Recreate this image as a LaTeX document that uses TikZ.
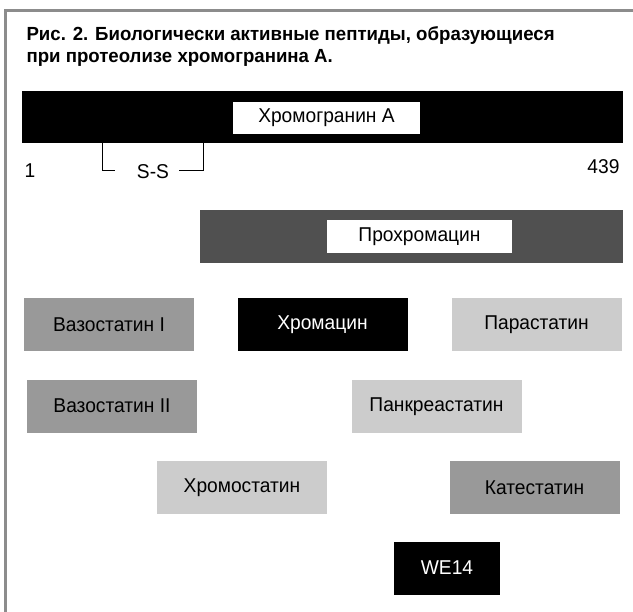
\documentclass[tikz,border=0pt]{standalone}
\usepackage{fontspec}
\setmainfont{Liberation Sans}
\newfontfamily\lblfont{Liberation Sans}[FakeStretch=0.96]
\newfontfamily\ttlfont{Liberation Sans}[FakeStretch=0.98]
\definecolor{framegray}{HTML}{8C8C8C}
\definecolor{darkbar}{HTML}{505050}
\definecolor{midgray}{HTML}{999999}
\definecolor{lightgray}{HTML}{CCCCCC}
\begin{document}
\begin{tikzpicture}[x=1pt,y=-1pt,
  lbl/.style={font=\lblfont\fontsize{20}{24}\selectfont},
  pbox/.style={rectangle, inner sep=0pt, minimum width=170pt, minimum height=53pt, lbl},
  midbox/.style={pbox, fill=midgray},
  lightbox/.style={pbox, fill=lightgray},
  blackbox/.style={pbox, fill=black, text=white},
  whitelabel/.style={rectangle, fill=white, inner sep=0pt, lbl},
  titletext/.style={anchor=base west, font=\ttlfont\bfseries\fontsize{19}{23}\selectfont},
  bracket/.style={draw=black, line width=1pt}
]
\useasboundingbox (0,0) rectangle (633,612);
\fill[white] (0,0) rectangle (633,612);
\draw[framegray, line width=2.5pt] (5.5,612) -- (5.5,10.5) -- (633,10.5);

\node[titletext] (title1) at (23,40.5) {Рис. 2. Биологически активные пептиды, образующиеся};
\node[titletext] (title2) at (23,62.7) {при протеолизе хромогранина А.};

% Chromogranin A
\node[rectangle, fill=black, inner sep=0pt, minimum width=601pt, minimum height=52pt] (cga) at (322.5,117) {};
\node[whitelabel, minimum width=187pt, minimum height=32pt] (cgalbl) at (326.5,118) {\raisebox{1.5pt}{Хромогранин А}};

% S-S bracket
\coordinate (ssl) at (102,143);
\coordinate (ssr) at (203,143);
\node[lbl] (ss) at (153,172) {S-S};
\draw[bracket] (ssl) -- (102,171) -- (115,171);
\draw[bracket] (ssr) -- (203,171) -- (179,171);

\node[lbl, anchor=west] (n1) at (21,171) {1};
\node[lbl, anchor=east] (n439) at (623,167) {439};

% Prochromacin
\node[rectangle, fill=darkbar, inner sep=0pt, minimum width=423pt, minimum height=53pt] (pcm) at (411.5,236.5) {};
\node[whitelabel, minimum width=185pt, minimum height=33pt] (pcmlbl) at (419.5,236.5) {Прохромацин};

% Peptides
\node[midbox] (vs1) at (109,324.5) {Вазостатин I};
\node[blackbox] (chr) at (322.5,324.5) {\raisebox{1.5pt}{Хромацин}};
\node[lightbox] (par) at (536.5,324.5) {Парастатин};
\node[midbox] (vs2) at (112,406.5) {\raisebox{2pt}{Вазостатин II}};
\node[lightbox] (pan) at (436.5,406.5) {\raisebox{3pt}{Панкреастатин}};
\node[lightbox] (chs) at (242,487.5) {Хромостатин};
\node[midbox] (cat) at (534.5,487.5) {Катестатин};
\node[blackbox, minimum width=106pt] (we) at (447,568.5) {\raisebox{2pt}{WE14}};
\end{tikzpicture}
\end{document}
